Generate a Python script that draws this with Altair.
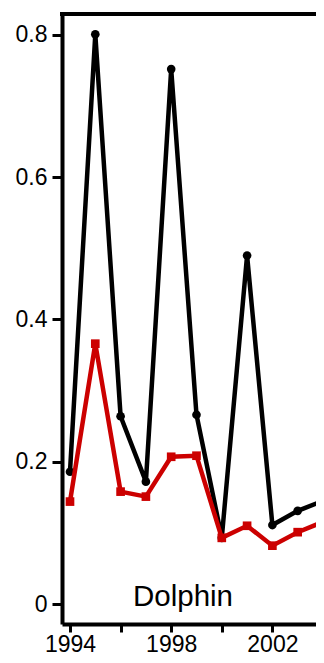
import altair as alt
import pandas as pd

years = [1994, 1995, 1996, 1997, 1998, 1999, 2000, 2001, 2002, 2003, 2004]
black_vals = [0.186, 0.801, 0.264, 0.172, 0.752, 0.266, 0.093, 0.490, 0.111, 0.131, 0.145]
red_vals = [0.144, 0.366, 0.158, 0.151, 0.207, 0.2085, 0.093, 0.110, 0.082, 0.101, 0.1155]
x_ticks = [1994, 1996, 1998, 2000, 2002, 2004]
y_ticks = [0, 0.2, 0.4, 0.6, 0.8]
label_text = "Dolphin"

FONT = "Liberation Sans"
W = 254

black_df = pd.DataFrame({"year": years, "value": black_vals})
red_df = pd.DataFrame({"year": years, "value": red_vals})

x_scale = alt.Scale(domain=[1993.684, 2003.724], nice=False, zero=False)
y_scale = alt.Scale(domain=[-0.0281, 0.8295], nice=False, zero=False)

label_expr = "datum.value == 1994 ? '1994' : datum.value == 1998 ? '1998' : datum.value == 2002 ? '2002' : ''"

x_enc = alt.X("year:Q", scale=x_scale,
              axis=alt.Axis(values=x_ticks, labelExpr=label_expr, title=None, grid=False,
                            tickSize=8, labelPadding=1, labelFontSize=23))
y_enc = alt.Y("value:Q", scale=y_scale,
              axis=alt.Axis(values=y_ticks, format="~g", title=None, grid=False,
                            tickSize=10, labelPadding=5, labelFontSize=23))

black_line = alt.Chart(black_df).mark_line(color="black", strokeWidth=4.5, clip=True).encode(x=x_enc, y=y_enc)
black_pts = alt.Chart(black_df).mark_point(shape="circle", filled=True, color="black", size=75, opacity=1, clip=True).encode(x="year:Q", y="value:Q")
red_line = alt.Chart(red_df).mark_line(color="#CC0000", strokeWidth=4.5, clip=True).encode(x="year:Q", y="value:Q")
red_pts = alt.Chart(red_df).mark_point(shape="square", filled=True, color="#CC0000", size=75, opacity=1, clip=True).encode(x="year:Q", y="value:Q")

top_border = alt.Chart(pd.DataFrame({"a": [0]})).mark_rule(color="black", strokeWidth=4).encode(
    x=alt.value(-2), x2=alt.value(W), y=alt.value(0))

label = alt.Chart(pd.DataFrame({"t": [label_text]})).mark_text(
    font=FONT, fontSize=29.5, color="black", align="center", baseline="alphabetic").encode(
    text="t:N", x=alt.value(121), y=alt.value(592))

chart = alt.layer(black_line, black_pts, red_line, red_pts, top_border, label).properties(
    width=W, height=610,
    autosize=alt.AutoSizeParams(type="none"),
    padding={"left": 54, "top": 6, "right": 0, "bottom": 31},
).configure_view(stroke=None).configure_axis(
    labelFont=FONT, labelFontSize=23, labelColor="black",
    domainColor="black", domainWidth=4, tickColor="black", tickWidth=3,
    labelFlush=False, labelOverlap=False
)

chart.save("out.html", embed_options={"renderer": "svg", "actions": False})
